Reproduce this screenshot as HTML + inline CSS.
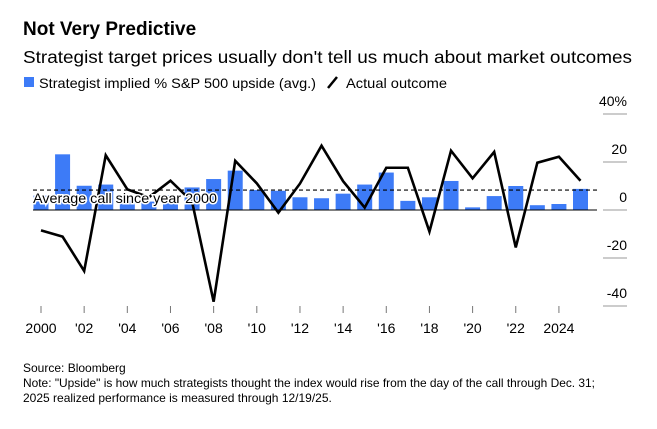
<!DOCTYPE html>
<html><head><meta charset="utf-8"><style>
body{margin:0;background:#fff;}
svg{display:block;font-family:"Liberation Sans",Arial,sans-serif;}
</style></head><body>
<svg id="chart" width="657" height="429" viewBox="0 0 657 429">
<text x="23" y="35" font-size="19" font-weight="bold" fill="#000">Not Very Predictive</text>
<text x="23" y="63" font-size="17.5" fill="#000" textLength="609" lengthAdjust="spacingAndGlyphs">Strategist target prices usually don't tell us much about market outcomes</text>
<g>
<rect x="24" y="77" width="10" height="10" fill="#3d7bf7"/>
<text x="39" y="88" font-size="14" textLength="277" lengthAdjust="spacingAndGlyphs">Strategist implied % S&amp;P 500 upside (avg.)</text>
<line x1="328" y1="88" x2="337" y2="77" stroke="#000" stroke-width="2.5"/>
<text x="346" y="88" font-size="14" textLength="101" lengthAdjust="spacingAndGlyphs">Actual outcome</text>
</g>
<g id="yaxis"></g>
<g id="xaxis"></g>
<g id="bars"></g>
<g id="refs"></g>
<g id="series"></g>
<g font-size="12" fill="#000">
<text x="23" y="372">Source: Bloomberg</text>
<text x="23" y="387" textLength="572" lengthAdjust="spacingAndGlyphs">Note: "Upside" is how much strategists thought the index would rise from the day of the call through Dec. 31;</text>
<text x="23" y="402">2025 realized performance is measured through 12/19/25.</text>
</g>
</svg>
<script>
const years=[2000,2001,2002,2003,2004,2005,2006,2007,2008,2009,2010,2011,2012,2013,2014,2015,2016,2017,2018,2019,2020,2021,2022,2023,2024,2025];
const implied=[6,23.2,10.1,10.6,4,3.5,6.2,9.4,12.9,16.4,8.3,8,5.3,4.9,6.8,10.6,15.6,3.8,5.3,12.1,1.1,5.8,10,2,2.5,8.8];
const actual=[-8.5,-11.1,-25.4,22.8,8.6,5.3,12.2,3.5,-38.2,20.5,11.1,-1.1,11,26.8,12,1,17.6,17.6,-9,24.7,13.2,24.2,-15.6,19.7,22.2,12.2];
const avgCall=8.3;
const yTicks=[40,20,0,-20,-40];
const yTickLabels=["40%","20","0","-20","-40"];
const xTickYears=[2000,2002,2004,2006,2008,2010,2012,2014,2016,2018,2020,2022,2024];
const xTickLabels=["2000","'02","'04","'06","'08","'10","'12","'14","'16","'18","'20","'22","2024"];
const NS="http://www.w3.org/2000/svg";
function mk(t,a,p){const e=document.createElementNS(NS,t);for(const k in a)e.setAttribute(k,a[k]);p.appendChild(e);return e;}
const X=y=>41+(y-2000)*21.58;
const Y=v=>210-v*2.4;
const yax=document.getElementById('yaxis');
yTicks.forEach((t,i)=>{
 const l=mk('line',{x1:603,x2:627,y1:Y(t),y2:Y(t),stroke:'#999','stroke-width':1},yax);
 
 
 const tx=mk('text',{x:627,y:Y(t)-8,'text-anchor':'end','font-size':14},yax);
 tx.textContent=yTickLabels[i];
 
 
});
const xax=document.getElementById('xaxis');
xTickYears.forEach((yr,i)=>{
 const l=mk('line',{x1:X(yr),x2:X(yr),y1:306,y2:313,stroke:'#777','stroke-width':1},xax);
 
 
 const tx=mk('text',{x:X(yr),y:333,'text-anchor':'middle','font-size':14},xax);
 tx.textContent=xTickLabels[i];
 
 
});
const bg=document.getElementById('bars');
years.forEach((yr,i)=>{
 const v=implied[i];
 const r=mk('rect',{x:X(yr)-7.5,width:15,y:Math.min(Y(v),Y(0)),height:Math.abs(Y(v)-Y(0)),fill:'#3d7bf7'},bg);
 
 
});
const rg=document.getElementById('refs');
const z=mk('line',{x1:33,x2:597,y1:Y(0),y2:Y(0),stroke:'#000','stroke-width':1},rg);


const d=mk('line',{x1:33,x2:597,y1:Y(avgCall),y2:Y(avgCall),stroke:'#000','stroke-width':1.2,'stroke-dasharray':'4,3'},rg);


const sg=document.getElementById('series');
const p=mk('polyline',{points:years.map((yr,i)=>X(yr)+','+Y(actual[i])).join(' '),fill:'none',stroke:'#000','stroke-width':2.6,'stroke-linejoin':'miter'},sg);


const at=mk('text',{x:33,y:Y(avgCall)+13,'font-size':14,stroke:'#fff','stroke-width':3,'paint-order':'stroke',fill:'#000',textLength:184,lengthAdjust:'spacingAndGlyphs'},sg);
at.textContent='Average call since year 2000';


</script>
</body></html>
